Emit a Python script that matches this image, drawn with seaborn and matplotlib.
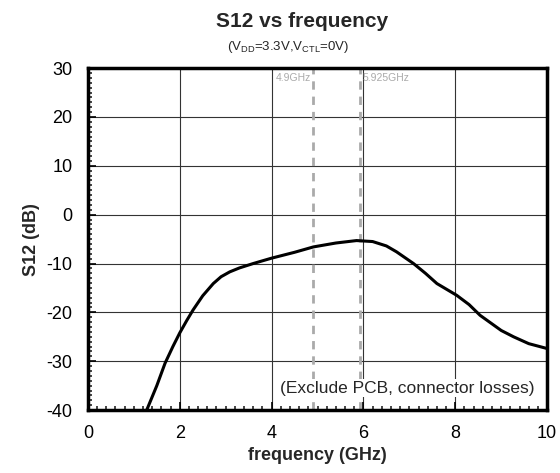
import matplotlib
matplotlib.use("Agg")
import matplotlib.pyplot as plt
import seaborn as sns
import pandas as pd
from matplotlib.ticker import MultipleLocator

freq_ghz = [1.28, 1.5, 1.68, 1.85, 2.0, 2.15, 2.29, 2.5, 2.73, 2.9, 3.09, 3.3, 3.6, 4.0, 4.5,
            4.91, 5.4, 5.85, 6.2, 6.5, 6.72, 7.09, 7.35, 7.6, 8.03, 8.3, 8.54, 9.0, 9.27, 9.6, 10.0]
s12_db = [-40.0, -35.0, -30.4, -27.0, -24.2, -21.7, -19.5, -16.6, -14.1, -12.7, -11.7, -10.9,
          -10.0, -8.9, -7.7, -6.6, -5.8, -5.3, -5.5, -6.4, -7.6, -10.0, -12.0, -14.1, -16.5,
          -18.4, -20.6, -23.7, -25.0, -26.4, -27.4]
marker_freqs = [4.9, 5.925]
marker_labels = ["4.9GHz", "5.925GHz"]
x_ticks = [0, 2, 4, 6, 8, 10]
y_ticks = [-40, -30, -20, -10, 0, 10, 20, 30]

sns.set_theme(style="white")
plt.rcParams["font.family"] = ["Liberation Sans", "DejaVu Sans"]
plt.rcParams["axes.unicode_minus"] = False

df = pd.DataFrame({"frequency": freq_ghz, "S12": s12_db})

fig = plt.figure(figsize=(5.6, 4.73), dpi=100)
ax = fig.add_axes([0.157, 0.133, 0.82, 0.723])

ax.grid(True, which="major", color="#333333", linewidth=0.8)
for f in marker_freqs:
    ax.axvline(f, color="#aaaaaa", linestyle=(0, (3, 2.5)), linewidth=2, zorder=2)
ax.text(marker_freqs[0] - 0.05, 29, marker_labels[0], color="#aaaaaa", fontsize=7.5,
        ha="right", va="top", zorder=3)
ax.text(marker_freqs[1] + 0.05, 29, marker_labels[1], color="#aaaaaa", fontsize=7.5,
        ha="left", va="top", zorder=3)

sns.lineplot(data=df, x="frequency", y="S12", ax=ax, color="black", linewidth=2.2,
             zorder=4, clip_on=True)

ax.text(6.95, -35.5, "(Exclude PCB, connector losses)", fontsize=12.5, ha="center",
        va="center", zorder=5,
        bbox=dict(facecolor="white", edgecolor="none", pad=1))

ax.set_xlim(0, 10)
ax.set_ylim(-40, 30)
ax.set_xticks(x_ticks)
ax.set_yticks(y_ticks)
ax.xaxis.set_minor_locator(MultipleLocator(0.2))
ax.yaxis.set_minor_locator(MultipleLocator(1))
ax.tick_params(which="major", direction="in", length=6, width=1.2, labelsize=13,
               colors="black", bottom=True, left=True)
ax.tick_params(axis="x", which="major", pad=11)
ax.tick_params(axis="y", which="major", pad=11)
ax.tick_params(which="minor", direction="in", length=3, width=1.2, bottom=True, left=True)
for sp in ax.spines.values():
    sp.set_visible(True)
    sp.set_color("black")
    sp.set_linewidth(2.5)

ax.set_xlabel("frequency (GHz)", fontsize=13, fontweight="bold", labelpad=3)
ax.set_ylabel("S12 (dB)", fontsize=13, fontweight="bold", labelpad=5)

fig.text(0.54, 0.955, "S12 vs frequency", fontsize=15, fontweight="bold",
         ha="center", va="center")
fig.text(0.515, 0.9, r"(V$_\mathregular{DD}$=3.3V,V$_\mathregular{CTL}$=0V)", fontsize=9.5,
         ha="center", va="center")

fig.savefig("out.png", dpi=100, facecolor="white")
